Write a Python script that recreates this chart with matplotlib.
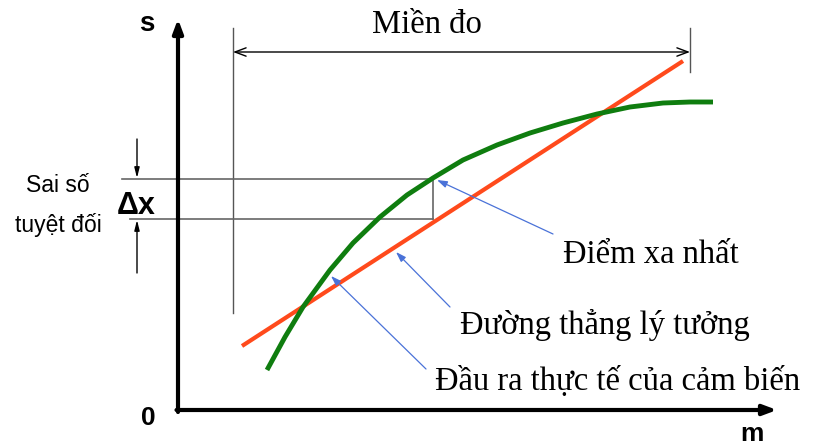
import matplotlib
matplotlib.use("Agg")
import matplotlib.pyplot as plt

# --- data (diagram coordinates, pixel-like units, y grows downward) ---
ideal_x = [242, 683]
ideal_y = [346, 61]
actual_x = [267, 285, 303, 330, 353, 380, 407, 433, 463, 497, 530, 563, 597, 630, 663, 690, 713]
actual_y = [370, 337, 307, 270, 243, 217, 195, 178, 160, 145, 133, 123, 114, 107, 103, 102, 102]
far_x = 433
far_actual_y = 179
far_ideal_y = 219
range_left = 233
range_right = 690

fig = plt.figure(figsize=(8.14, 4.48), dpi=100)
ax = fig.add_axes([0, 0, 1, 1])
ax.set_xlim(0, 814)
ax.set_ylim(448, 0)
ax.axis("off")

serif = ["Liberation Serif", "DejaVu Serif"]
sans = ["Liberation Sans", "DejaVu Sans"]

# axes
ax.annotate("", xy=(178, 19), xytext=(178, 412),
            arrowprops=dict(arrowstyle="-|>,head_length=0.8,head_width=0.3", color="black", lw=3, shrinkA=0, shrinkB=0))
ax.annotate("", xy=(777, 410), xytext=(176.5, 410),
            arrowprops=dict(arrowstyle="-|>,head_length=0.8,head_width=0.3", color="black", lw=3, shrinkA=0, shrinkB=0))
ax.text(147, 24, "s", fontsize=20, fontweight="bold", family=sans, ha="center", va="center")
ax.text(148, 418, "0", fontsize=19, fontweight="bold", family=sans, ha="center", va="center")
ax.text(752, 441, "m", fontsize=19, fontweight="bold", family=sans, ha="center", va="baseline")

# range (Miền đo)
ax.plot([range_left, range_left], [28, 313], color="#555555", lw=1)
ax.plot([range_right, range_right], [28, 72], color="#555555", lw=1)
ax.annotate("", xy=(range_left, 52), xytext=(range_right, 52),
            arrowprops=dict(arrowstyle="<->,head_length=0.8,head_width=0.3", color="black", lw=1, shrinkA=0, shrinkB=0))
ax.text(427, 33, "Miền đo", fontsize=23.5, family=serif, ha="center", va="baseline")

# error guide lines
ax.plot([122, far_x], [far_actual_y, far_actual_y], color="#666666", lw=1.2)
ax.plot([130, far_x], [far_ideal_y, far_ideal_y], color="#666666", lw=1.2)
ax.plot([far_x, far_x], [far_actual_y, far_ideal_y], color="#666666", lw=1.2)

# curves
ax.plot(ideal_x, ideal_y, color="#ff4a1c", lw=3, solid_capstyle="butt")
ax.plot(actual_x, actual_y, color="#0f7d0f", lw=3.5, solid_capstyle="butt", solid_joinstyle="round")

# Δx annotations
ax.annotate("", xy=(137, far_actual_y - 1), xytext=(137, 139),
            arrowprops=dict(arrowstyle="-|>,head_length=0.6,head_width=0.15", color="black", lw=1, shrinkA=0, shrinkB=0))
ax.annotate("", xy=(137, far_ideal_y + 1), xytext=(137, 273),
            arrowprops=dict(arrowstyle="-|>,head_length=0.6,head_width=0.15", color="black", lw=1, shrinkA=0, shrinkB=0))
ax.text(136, 214, "Δx", fontsize=22, fontweight="bold", family=sans, ha="center", va="baseline")
ax.text(58, 192, "Sai số", fontsize=16.5, family=sans, ha="center", va="baseline")
ax.text(58, 232, "tuyệt đối", fontsize=16.5, family=sans, ha="center", va="baseline")

# callouts
blue = "#4a72d8"
callouts = [
    ((437, 180), (553, 234)),
    ((396, 252), (450, 307)),
    ((331, 276), (426, 369)),
]
for tip, tail in callouts:
    ax.annotate("", xy=tip, xytext=tail,
                arrowprops=dict(arrowstyle="-|>,head_length=0.6,head_width=0.2", color=blue, lw=0.9, shrinkA=0, shrinkB=0))

ax.text(563, 263, "Điểm xa nhất", fontsize=23.5, family=serif, ha="left", va="baseline")
ax.text(460, 334, "Đường thẳng lý tưởng", fontsize=23.5, family=serif, ha="left", va="baseline")
ax.text(435, 390, "Đầu ra thực tế của cảm biến", fontsize=23.5, family=serif, ha="left", va="baseline")

fig.savefig("out.png", dpi=100, facecolor="white")
